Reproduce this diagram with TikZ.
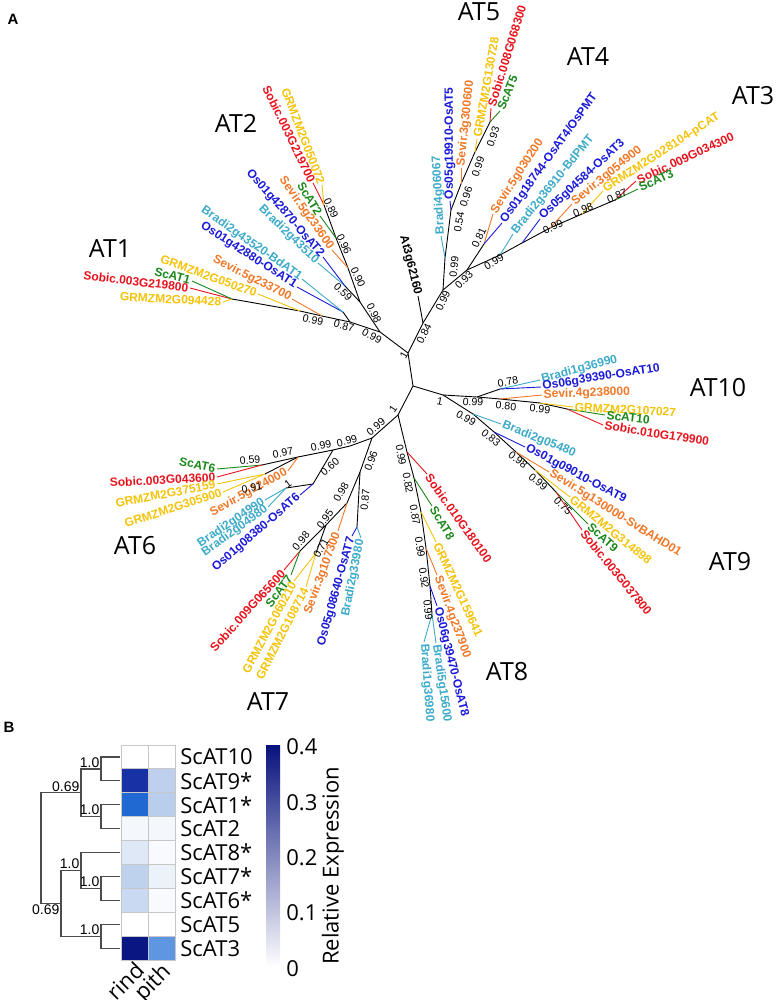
\documentclass[tikz,border=0pt]{standalone}
\usepackage{fontspec}
\setmainfont{Liberation Sans}
\newfontfamily\opensans{Open Sans}
\usetikzlibrary{calc}
\definecolor{csob}{RGB}{232,18,28}
\definecolor{cgrm}{RGB}{245,195,10}
\definecolor{csev}{RGB}{240,120,40}
\definecolor{csca}{RGB}{25,135,25}
\definecolor{cosa}{RGB}{25,25,215}
\definecolor{cbra}{RGB}{60,170,200}
\definecolor{hmA}{RGB}{22,50,165}
\definecolor{hmB}{RGB}{190,208,238}
\definecolor{hmC}{RGB}{32,105,210}
\definecolor{hmD}{RGB}{185,205,237}
\definecolor{hmE}{RGB}{244,247,252}
\definecolor{hmF}{RGB}{222,232,247}
\definecolor{hmG}{RGB}{248,250,253}
\definecolor{hmH}{RGB}{190,210,238}
\definecolor{hmI}{RGB}{236,242,250}
\definecolor{hmJ}{RGB}{200,217,241}
\definecolor{hmK}{RGB}{10,22,130}
\definecolor{hmL}{RGB}{95,150,225}
\definecolor{cbTop}{RGB}{8,18,125}
\definecolor{cbMid}{RGB}{38,110,212}

\begin{document}
\begin{tikzpicture}[x=0.5pt,y=-0.5pt]
\tikzset{
  brline/.style={line width=0.45pt},
  tiplab/.style={font=\bfseries\fontsize{6}{6}\selectfont,inner sep=0.7pt},
  bootlab/.style={font=\fontsize{5.3}{5.3}\selectfont,inner sep=0pt},
  cladelab/.style={font=\opensans\fontsize{12.5}{12.5}\selectfont,inner sep=0pt},
  panellab/.style={font=\bfseries\fontsize{7.5}{7.5}\selectfont,inner sep=0pt},
  hmcell/.style={draw=black!22,line width=0.5pt},
  dendline/.style={draw=black!70,line width=0.6pt},
  hmlab/.style={font=\opensans\fontsize{11}{11}\selectfont,inner sep=0pt},
  dendlab/.style={font=\fontsize{7}{7}\selectfont,inner sep=0.6pt},
}
\useasboundingbox (0,0) rectangle (777,1000);

\node[panellab] (pa) at (13,19) {A};
\node[panellab] (pb) at (9,727) {B};

% inner nodes
\coordinate (na) at (408,353);
\coordinate (nb) at (413,386);
\coordinate (nc) at (398,415);
\coordinate (nd) at (423,323);
\coordinate (ne) at (443,290);
\coordinate (n5a) at (445,258);
\coordinate (n5b) at (451,210);
\coordinate (n5c) at (461,184);
\coordinate (n5d) at (475,152);
\coordinate (n5e) at (490,122);
\coordinate (n43) at (467,270);
\coordinate (n4a) at (484,244);
\coordinate (n4b) at (500,255);
\coordinate (n4c) at (522,243);
\coordinate (n3a) at (550,228);
\coordinate (n3b) at (582,214);
\coordinate (n3c) at (615,200);
\coordinate (n12) at (380,332);
\coordinate (n1a) at (350,322);
\coordinate (np1) at (343,312);
\coordinate (n1b) at (322,316);
\coordinate (n1c) at (300,311);
\coordinate (n1d) at (232,299);
\coordinate (n2a) at (360,302);
\coordinate (np2) at (345,286);
\coordinate (n2b) at (348,268);
\coordinate (n2c) at (336,238);
\coordinate (n2d) at (324,205);
\coordinate (n109) at (443,395);
\coordinate (n10a) at (477,397);
\coordinate (np10) at (500,389);
\coordinate (n10b) at (500,399);
\coordinate (n10c) at (540,403);
\coordinate (n10d) at (567,409);
\coordinate (n9a) at (473,414);
\coordinate (n9b) at (494,432);
\coordinate (n9c) at (516,452);
\coordinate (n9d) at (535,470);
\coordinate (n9e) at (556,492);
\coordinate (n8a) at (407,452);
\coordinate (n8b) at (414,478);
\coordinate (n8c) at (421,512);
\coordinate (n8d) at (426,548);
\coordinate (n8e) at (430,586);
\coordinate (n8f) at (432,614);
\coordinate (n67) at (372,438);
\coordinate (n6a) at (350,446);
\coordinate (n6b) at (333,450);
\coordinate (n6c) at (313,484);
\coordinate (n6d) at (286,488);
\coordinate (n6e) at (298,457);
\coordinate (n6f) at (262,465);
\coordinate (n6g) at (265,474);
\coordinate (n7a) at (360,472);
\coordinate (n7b) at (357,527);
\coordinate (n7c) at (347,503);
\coordinate (n7d) at (326,525);
\coordinate (n7e) at (300,551);
\coordinate (n7f) at (316,553);

\draw[brline] (na)--(nb)--(nc);
\draw[brline] (na)--(nd)--(ne)--(n5a)--(n5b)--(n5c)--(n5d)--(n5e);
\draw[brline] (ne)--(n43)--(n4a);
\draw[brline] (n43)--(n4b)--(n4c)--(n3a)--(n3b)--(n3c);
\draw[brline] (na)--(n12)--(n1a)--(n1b)--(n1c)--(n1d);
\draw[brline] (n1a)--(np1);
\draw[brline] (n12)--(n2a)--(n2b)--(n2c)--(n2d);
\draw[brline] (n2a)--(np2);
\draw[brline] (nb)--(n109)--(n10a)--(n10b)--(n10c)--(n10d);
\draw[brline] (n10a)--(np10);
\draw[brline] (n109)--(n9a)--(n9b)--(n9c)--(n9d)--(n9e);
\draw[brline] (nc)--(n8a)--(n8b)--(n8c)--(n8d)--(n8e)--(n8f);
\draw[brline] (nc)--(n67)--(n6a)--(n6b)--(n6e)--(n6f);
\draw[brline] (n6e)--(n6g);
\draw[brline] (n6b)--(n6c)--(n6d);
\draw[brline] (n67)--(n7a)--(n7b);
\draw[brline] (n7a)--(n7c)--(n7d)--(n7e);
\draw[brline] (n7d)--(n7f);

% AT5, AT4, AT3
\coordinate (tat) at (418,296);
\coordinate (t5a) at (441,236);
\coordinate (t5b) at (450,201);
\coordinate (t5c) at (461,168);
\coordinate (t5d) at (477,139);
\coordinate (t5e) at (491,108);
\coordinate (t5f) at (500,111);
\coordinate (t4a) at (493,214);
\coordinate (t4b) at (502,223);
\coordinate (t4c) at (513,234);
\coordinate (t4d) at (540,219);
\coordinate (t3a) at (572,204);
\coordinate (t3b) at (603,191);
\coordinate (t3c) at (636,181);
\coordinate (t3d) at (638,189);
\draw[brline] (nd)--(tat);
\draw[brline,cbra] (n5a)--(t5a);
\draw[brline,cosa] (n5b)--(t5b);
\draw[brline,csev] (n5c)--(t5c);
\draw[brline,cgrm] (n5d)--(t5d);
\draw[brline,csob] (n5e)--(t5e);
\draw[brline,csca] (n5e)--(t5f);
\draw[brline,csev] (n4a)--(t4a);
\draw[brline,cosa] (n4a)--(t4b);
\draw[brline,cbra] (n4b)--(t4c);
\draw[brline,cosa] (n4c)--(t4d);
\draw[brline,csev] (n3a)--(t3a);
\draw[brline,cgrm] (n3b)--(t3b);
\draw[brline,csob] (n3c)--(t3c);
\draw[brline,csca] (n3c)--(t3d);
\node[tiplab,anchor=east,rotate=-76] (lat) at (tat) {At3g62160};
\node[tiplab,cbra,anchor=west,rotate=93] (l5a) at (t5a) {Bradi4g06067};
\node[tiplab,cosa,anchor=west,rotate=90] (l5b) at (t5b) {Os05g19910-OsAT5};
\node[tiplab,csev,anchor=west,rotate=84] (l5c) at (t5c) {Sevir.3g300600};
\node[tiplab,cgrm,anchor=west,rotate=80] (l5d) at (t5d) {GRMZM2G130728};
\node[tiplab,csob,anchor=west,rotate=73] (l5e) at (t5e) {Sobic.008G068300};
\node[tiplab,csca,anchor=west,rotate=68] (l5f) at (t5f) {ScAT5};
\node[tiplab,csev,anchor=west,rotate=57] (l4a) at (t4a) {Sevir.5g030200};
\node[tiplab,cosa,anchor=west,rotate=54] (l4b) at (t4b) {Os01g18744-OsAT4/OsPMT};
\node[tiplab,cbra,anchor=west,rotate=51] (l4c) at (t4c) {Bradi2g36910-BdPMT};
\node[tiplab,cosa,anchor=west,rotate=43] (l4d) at (t4d) {Os05g04584-OsAT3};
\node[tiplab,csev,anchor=west,rotate=39] (l3a) at (t3a) {Sevir.3g054900};
\node[tiplab,cgrm,anchor=west,rotate=33] (l3b) at (t3b) {GRMZM2G028104-pCAT};
\node[tiplab,csob,anchor=west,rotate=25] (l3c) at (t3c) {Sobic.009G034300};
\node[tiplab,csca,anchor=west,rotate=25] (l3d) at (t3d) {ScAT3};

% AT1, AT2
\coordinate (t1a) at (190,288);
\coordinate (t1b) at (192,281);
\coordinate (t1c) at (223,302);
\coordinate (t1d) at (258,294);
\coordinate (t1e) at (292,299);
\coordinate (t1f) at (297,287);
\coordinate (t1g) at (302,279);
\coordinate (t2a) at (318,263);
\coordinate (t2b) at (323,257);
\coordinate (t2c) at (332,250);
\coordinate (t2d) at (320,216);
\coordinate (t2e) at (313,183);
\coordinate (t2f) at (322,185);
\draw[brline,csob] (n1d)--(t1a);
\draw[brline,csca] (n1d)--(t1b);
\draw[brline,cgrm] (n1d)--(t1c);
\draw[brline,cgrm] (n1c)--(t1d);
\draw[brline,csev] (n1b)--(t1e);
\draw[brline,cosa] (np1)--(t1f);
\draw[brline,cbra] (np1)--(t1g);
\draw[brline,cbra] (np2)--(t2a);
\draw[brline,cosa] (np2)--(t2b);
\draw[brline,csev] (n2b)--(t2c);
\draw[brline,csca] (n2c)--(t2d);
\draw[brline,csob] (n2d)--(t2e);
\draw[brline,cgrm] (n2d)--(t2f);
\node[tiplab,csob,anchor=east,rotate=-7] (l1a) at (t1a) {Sobic.003G219800};
\node[tiplab,csca,anchor=east,rotate=-15] (l1b) at (t1b) {ScAT1};
\node[tiplab,cgrm,anchor=east,rotate=-3] (l1c) at (t1c) {GRMZM2G094428};
\node[tiplab,cgrm,anchor=east,rotate=-20] (l1d) at (t1d) {GRMZM2G050270};
\node[tiplab,csev,anchor=east,rotate=-27] (l1e) at (t1e) {Sevir.5g233700};
\node[tiplab,cosa,anchor=east,rotate=-33] (l1f) at (t1f) {Os01g42880-OsAT1};
\node[tiplab,cbra,anchor=east,rotate=-35] (l1g) at (t1g) {Bradi2g43520-BdAT1};
\node[tiplab,cbra,anchor=east,rotate=-44] (l2a) at (t2a) {Bradi2g43510};
\node[tiplab,cosa,anchor=east,rotate=-49] (l2b) at (t2b) {Os01g42870-OsAT2};
\node[tiplab,csev,anchor=east,rotate=-55] (l2c) at (t2c) {Sevir.5g233600};
\node[tiplab,csca,anchor=east,rotate=-59] (l2d) at (t2d) {ScAT2};
\node[tiplab,csob,anchor=east,rotate=-64] (l2e) at (t2e) {Sobic.003G219700};
\node[tiplab,cgrm,anchor=east,rotate=-69] (l2f) at (t2f) {GRMZM2G050072};

% AT10, AT9
\coordinate (t10a) at (540,380);
\coordinate (t10b) at (541,387);
\coordinate (t10c) at (542,395);
\coordinate (t10d) at (573,407);
\coordinate (t10e) at (605,415);
\coordinate (t10f) at (603,425);
\coordinate (t9a) at (501,424);
\coordinate (t9b) at (525,447);
\coordinate (t9c) at (549,472);
\coordinate (t9d) at (570,497);
\coordinate (t9e) at (588,524);
\coordinate (t9f) at (582,530);
\draw[brline,cbra] (np10)--(t10a);
\draw[brline,cosa] (np10)--(t10b);
\draw[brline,csev] (n10b)--(t10c);
\draw[brline,cgrm] (n10c)--(t10d);
\draw[brline,csca] (n10d)--(t10e);
\draw[brline,csob] (n10d)--(t10f);
\draw[brline,cbra] (n9a)--(t9a);
\draw[brline,cosa] (n9b)--(t9b);
\draw[brline,csev] (n9c)--(t9c);
\draw[brline,cgrm] (n9d)--(t9d);
\draw[brline,csca] (n9e)--(t9e);
\draw[brline,csob] (n9e)--(t9f);
\node[tiplab,cbra,anchor=west,rotate=15] (l10a) at (t10a) {Bradi1g36990};
\node[tiplab,cosa,anchor=west,rotate=9] (l10b) at (t10b) {Os06g39390-OsAT10};
\node[tiplab,csev,anchor=west,rotate=2] (l10c) at (t10c) {Sevir.4g238000};
\node[tiplab,cgrm,anchor=west,rotate=-3] (l10d) at (t10d) {GRMZM2G107027};
\node[tiplab,csca,anchor=west,rotate=-6] (l10e) at (t10e) {ScAT10};
\node[tiplab,csob,anchor=west,rotate=-9] (l10f) at (t10f) {Sobic.010G179900};
\node[tiplab,cbra,anchor=west,rotate=-22] (l9a) at (t9a) {Bradi2g05480};
\node[tiplab,cosa,anchor=west,rotate=-28] (l9b) at (t9b) {Os01g09010-OsAT9};
\node[tiplab,csev,anchor=west,rotate=-32] (l9c) at (t9c) {Sevir.5g130000-SvBAHD01};
\node[tiplab,cgrm,anchor=west,rotate=-39] (l9d) at (t9d) {GRMZM2G314898};
\node[tiplab,csca,anchor=west,rotate=-42] (l9e) at (t9e) {ScAT9};
\node[tiplab,csob,anchor=west,rotate=-51] (l9f) at (t9f) {Sobic.003G037800};

% AT8
\coordinate (t8a) at (427,474);
\coordinate (t8b) at (432,506);
\coordinate (t8c) at (436,542);
\coordinate (t8d) at (437,575);
\coordinate (t8e) at (437,606);
\coordinate (t8f) at (436,643);
\coordinate (t8g) at (424,642);
\draw[brline,csob] (n8a)--(t8a);
\draw[brline,csca] (n8b)--(t8b);
\draw[brline,cgrm] (n8c)--(t8c);
\draw[brline,csev] (n8d)--(t8d);
\draw[brline,cosa] (n8e)--(t8e);
\draw[brline,cbra] (n8f)--(t8f);
\draw[brline,cbra] (n8f)--(t8g);
\node[tiplab,csob,anchor=west,rotate=-54.5] (l8a) at (t8a) {Sobic.010G180100};
\node[tiplab,csca,anchor=west,rotate=-59] (l8b) at (t8b) {ScAT8};
\node[tiplab,cgrm,anchor=west,rotate=-65] (l8c) at (t8c) {GRMZM2G159641};
\node[tiplab,csev,anchor=west,rotate=-70] (l8d) at (t8d) {Sevir.4g237900};
\node[tiplab,cosa,anchor=west,rotate=-76] (l8e) at (t8e) {Os06g39470-OsAT8};
\node[tiplab,cbra,anchor=west,rotate=-82] (l8f) at (t8f) {Bradi5g15600};
\node[tiplab,cbra,anchor=west,rotate=-86] (l8g) at (t8g) {Bradi1g36980};

% AT6, AT7
\coordinate (t6a) at (217,469);
\coordinate (t6b) at (217,477);
\coordinate (t6c) at (217,484);
\coordinate (t6d) at (223,492);
\coordinate (t6e) at (288,471);
\coordinate (t6f) at (265,500);
\coordinate (t6g) at (268,507);
\coordinate (t6h) at (300,495);
\coordinate (t7a) at (284,570);
\coordinate (t7b) at (291,575);
\coordinate (t7c) at (294,581);
\coordinate (t7d) at (306,587);
\coordinate (t7e) at (338,531);
\coordinate (t7f) at (352,536);
\coordinate (t7g) at (361,538);
\draw[brline,csca] (n6f)--(t6a);
\draw[brline,csob] (n6f)--(t6b);
\draw[brline,cgrm] (n6g)--(t6c);
\draw[brline,cgrm] (n6g)--(t6d);
\draw[brline,csev] (n6e)--(t6e);
\draw[brline,cbra] (n6d)--(t6f);
\draw[brline,cbra] (n6d)--(t6g);
\draw[brline,cosa] (n6c)--(t6h);
\draw[brline,csob] (n7e)--(t7a);
\draw[brline,csca] (n7e)--(t7b);
\draw[brline,cgrm] (n7f)--(t7c);
\draw[brline,cgrm] (n7f)--(t7d);
\draw[brline,csev] (n7c)--(t7e);
\draw[brline,cosa] (n7b)--(t7f);
\draw[brline,cbra] (n7b)--(t7g);
\node[tiplab,csca,anchor=east,rotate=-12] (l6a) at (t6a) {ScAT6};
\node[tiplab,csob,anchor=east,rotate=3] (l6b) at (t6b) {Sobic.003G043600};
\node[tiplab,cgrm,anchor=east,rotate=11] (l6c) at (t6c) {GRMZM2G375159};
\node[tiplab,cgrm,anchor=east,rotate=18] (l6d) at (t6d) {GRMZM2G305900};
\node[tiplab,csev,anchor=east,rotate=29] (l6e) at (t6e) {Sevir.5g124000};
\node[tiplab,cbra,anchor=east,rotate=34] (l6f) at (t6f) {Bradi2g04990};
\node[tiplab,cbra,anchor=east,rotate=36] (l6g) at (t6g) {Bradi2g04980};
\node[tiplab,cosa,anchor=east,rotate=41] (l6h) at (t6h) {Os01g08380-OsAT6};
\node[tiplab,csob,anchor=east,rotate=48] (l7a) at (t7a) {Sobic.009G065600};
\node[tiplab,csca,anchor=east,rotate=53] (l7b) at (t7b) {ScAT7};
\node[tiplab,cgrm,anchor=east,rotate=62] (l7c) at (t7c) {GRMZM2G060210};
\node[tiplab,cgrm,anchor=east,rotate=63] (l7d) at (t7d) {GRMZM2G108714};
\node[tiplab,csev,anchor=east,rotate=70] (l7e) at (t7e) {Sevir.3g107300};
\node[tiplab,cosa,anchor=east,rotate=74.5] (l7f) at (t7f) {Os05g08640-OsAT7};
\node[tiplab,cbra,anchor=east,rotate=79] (l7g) at (t7g) {Bradi2g33980};

% support values
\node[bootlab,rotate=60] (b0) at (404,355) {1};
\node[bootlab,rotate=63] (b1) at (424,334) {0.84};
\node[bootlab,rotate=65] (b2) at (443,301) {0.99};
\node[bootlab,rotate=85] (b3) at (454,267) {0.99};
\node[bootlab,rotate=80] (b4) at (459,222) {0.54};
\node[bootlab,rotate=72] (b5) at (466,197) {0.96};
\node[bootlab,rotate=72] (b6) at (478,167) {0.99};
\node[bootlab,rotate=72] (b7) at (493,137) {0.93};
\node[bootlab,rotate=45] (b8) at (464,280) {0.93};
\node[bootlab,rotate=65] (b9) at (479,238) {0.81};
\node[bootlab,rotate=30] (b10) at (494,262) {0.99};
\node[bootlab,rotate=25] (b11) at (553,227) {0.99};
\node[bootlab,rotate=22] (b12) at (583,210) {0.98};
\node[bootlab,rotate=22] (b13) at (617,196) {0.87};
\node[bootlab,rotate=-28] (b14) at (372,336) {0.99};
\node[bootlab,rotate=-15] (b15) at (344,326) {0.87};
\node[bootlab,rotate=-12] (b16) at (313,320) {0.99};
\node[bootlab,rotate=-65] (b17) at (374,313) {0.98};
\node[bootlab,rotate=-45] (b18) at (343,292) {0.59};
\node[bootlab,rotate=-65] (b19) at (358,277) {0.90};
\node[bootlab,rotate=-65] (b20) at (344,244) {0.96};
\node[bootlab,rotate=-65] (b21) at (331,208) {0.89};
\node[bootlab,rotate=-10] (b22) at (440,401) {1};
\node[bootlab,rotate=-3] (b23) at (473,402) {0.99};
\node[bootlab,rotate=10] (b24) at (508,382) {0.78};
\node[bootlab,rotate=-5] (b25) at (506,406) {0.80};
\node[bootlab,rotate=-5] (b26) at (540,409) {0.99};
\node[bootlab,rotate=-30] (b27) at (466,418) {0.99};
\node[bootlab,rotate=-38] (b28) at (491,438) {0.83};
\node[bootlab,rotate=-38] (b29) at (518,460) {0.98};
\node[bootlab,rotate=-40] (b30) at (538,482) {0.99};
\node[bootlab,rotate=-45] (b31) at (563,506) {0.75};
\node[bootlab,rotate=55] (b32) at (393,409) {1};
\node[bootlab,rotate=-80] (b33) at (401,455) {0.99};
\node[bootlab,rotate=-80] (b34) at (408,483) {0.82};
\node[bootlab,rotate=-80] (b35) at (415,515) {0.87};
\node[bootlab,rotate=-82] (b36) at (420,547) {0.99};
\node[bootlab,rotate=-82] (b37) at (424,578) {0.92};
\node[bootlab,rotate=-84] (b38) at (428,610) {0.99};
\node[bootlab,rotate=40] (b39) at (376,427) {0.99};
\node[bootlab,rotate=15] (b40) at (347,441) {0.99};
\node[bootlab,rotate=12] (b41) at (321,446) {0.99};
\node[bootlab,rotate=10] (b42) at (283,453) {0.97};
\node[bootlab,rotate=5] (b43) at (250,460) {0.59};
\node[bootlab,rotate=10] (b44) at (252,488) {0.91};
\node[bootlab,rotate=35] (b45) at (288,484) {1};
\node[bootlab,rotate=40] (b46) at (330,467) {0.60};
\node[bootlab,rotate=70] (b47) at (371,461) {0.96};
\node[bootlab,rotate=60] (b48) at (341,492) {0.98};
\node[bootlab,rotate=85] (b49) at (365,500) {0.87};
\node[bootlab,rotate=55] (b50) at (325,519) {0.95};
\node[bootlab,rotate=50] (b51) at (301,541) {0.98};
\node[bootlab,rotate=60] (b52) at (321,548) {0.71};

% clade names
\node[cladelab] (at1) at (110,249) {AT1};
\node[cladelab] (at2) at (236,123) {AT2};
\node[cladelab] (at5) at (479,12) {AT5};
\node[cladelab] (at4) at (588,57) {AT4};
\node[cladelab] (at3) at (753,96) {AT3};
\node[cladelab] (at10) at (718,388) {AT10};
\node[cladelab] (at9) at (730,562) {AT9};
\node[cladelab] (at8) at (507,672) {AT8};
\node[cladelab] (at7) at (268,702) {AT7};
\node[cladelab] (at6) at (135,546) {AT6};

% heat map
\foreach \i/\nm/\cr/\cp in {0/ScAT10/white/white,1/ScAT9*/hmA/hmB,2/ScAT1*/hmC/hmD,3/ScAT2/hmE/hmE,4/ScAT8*/hmF/hmG,5/ScAT7*/hmH/hmI,6/ScAT6*/hmJ/hmG,7/ScAT5/white/white,8/ScAT3/hmK/hmL}{
  \filldraw[hmcell,fill=\cr] (121,{745+23.9*\i}) rectangle (148,{768.9+23.9*\i});
  \filldraw[hmcell,fill=\cp] (148,{745+23.9*\i}) rectangle (175,{768.9+23.9*\i});
  \node[hmlab,anchor=west] (row\i) at (180,{756.95+23.9*\i}) {\nm};
  \coordinate (k\i) at (120,{756.95+23.9*\i});
}
\node[hmlab,anchor=east,rotate=45] (rind) at (140,966) {rind};
\node[hmlab,anchor=east,rotate=45] (pith) at (168,969) {pith};

\coordinate (p1) at (101,768.9);
\coordinate (p2) at (101,816.7);
\coordinate (p3) at (81,792.8);
\coordinate (p4) at (101,888.4);
\coordinate (p5) at (81,870.5);
\coordinate (p6) at (101,936.2);
\coordinate (p7) at (61,903.3);
\coordinate (p8) at (41,848);
\draw[dendline] (k0) -| (p1) |- (k1);
\draw[dendline] (k2) -| (p2) |- (k3);
\draw[dendline] (p1) -| (p3) |- (p2);
\draw[dendline] (k5) -| (p4) |- (k6);
\draw[dendline] (k4) -| (p5) |- (p4);
\draw[dendline] (k7) -| (p6) |- (k8);
\draw[dendline] (p5) -| (p7) |- (p6);
\draw[dendline] (p3) -| (p8) |- (p7);
\node[dendlab,anchor=south east] (e1) at (p1) {1.0};
\node[dendlab,anchor=south east] (e2) at (p2) {1.0};
\node[dendlab,anchor=south east] (e3) at (p3) {0.69};
\node[dendlab,anchor=south east] (e4) at (p4) {1.0};
\node[dendlab,anchor=south east] (e5) at (p5) {1.0};
\node[dendlab,anchor=south east] (e6) at (p6) {1.0};
\node[dendlab,anchor=north east] (e7) at (p7) {0.69};

% colour bar
\shade[top color=cbTop,middle color=cbMid,bottom color=white] (266,745) rectangle (280,967);
\node[hmlab,anchor=west] (c4) at (286,747) {0.4};
\node[hmlab,anchor=west] (c3) at (286,803) {0.3};
\node[hmlab,anchor=west] (c2) at (286,858) {0.2};
\node[hmlab,anchor=west] (c1) at (286,913) {0.1};
\node[hmlab,anchor=west] (c0) at (286,969) {0};
\node[hmlab,rotate=90] (relexp) at (333,866) {Relative Expression};
\end{tikzpicture}
\end{document}
